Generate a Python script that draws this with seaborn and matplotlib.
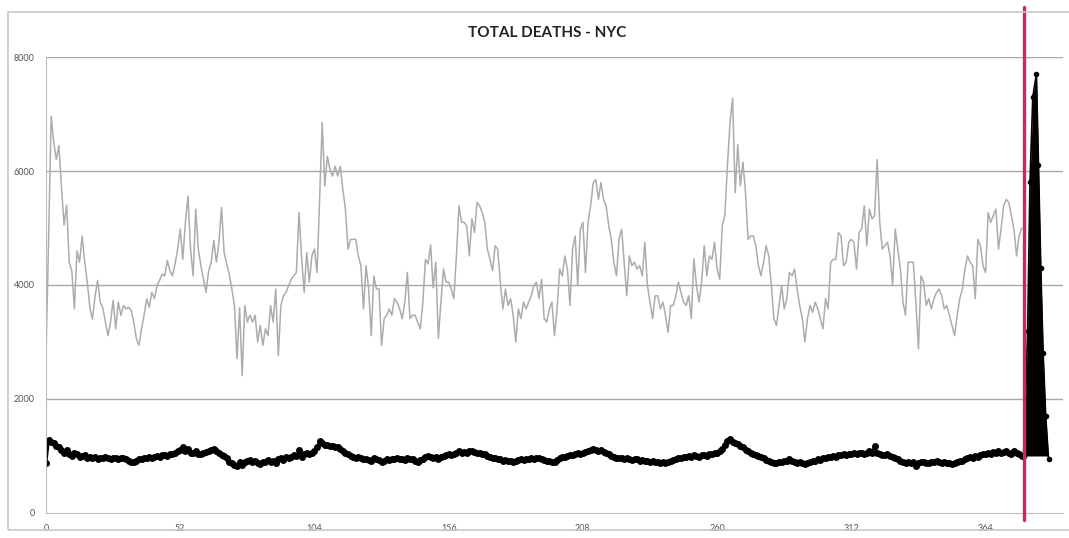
import numpy as np
import pandas as pd
import matplotlib.pyplot as plt
import seaborn as sns
from matplotlib.patches import Rectangle

# weekly totals (week 0 .. 378)
gray_vals = [
    2750, 4800, 6960, 6500, 6200, 6450, 5700, 5050, 5400, 4400,
    4250, 3580, 4600, 4400, 4860, 4400, 4050, 3600, 3400, 3800,
    4080, 3700, 3600, 3350, 3110, 3350, 3730, 3230, 3700, 3470,
    3640, 3580, 3610, 3550, 3350, 3060, 2940, 3230, 3470, 3760,
    3610, 3870, 3760, 3990, 4080, 4190, 4160, 4430, 4250, 4160,
    4370, 4630, 4980, 4450, 5100, 5560, 4630, 4160, 5330, 4630,
    4340, 4110, 3870, 4250, 4400, 4780, 4400, 4750, 5360, 4570,
    4370, 4190, 3930, 3640, 2710, 3600, 2410, 3640, 3350, 3470,
    3350, 3470, 3000, 3290, 2940, 3230, 3110, 3640, 3350, 3930,
    2760, 3640, 3810, 3870, 3990, 4100, 4160, 4220, 5270, 4510,
    3870, 4570, 4050, 4510, 4630, 4220, 5500, 6850, 5740, 6260,
    6030, 5910, 6080, 5910, 6080, 5680, 5330, 4630, 4800, 4800,
    4800, 4510, 4340, 3580, 4340, 3930, 3110, 4160, 3930, 3930,
    2940, 3410, 3470, 3580, 3470, 3760, 3700, 3580, 3410, 3700,
    4220, 3410, 3470, 3470, 3350, 3230, 3700, 4450, 4370, 4700,
    3950, 4400, 3060, 3700, 4280, 4050, 4050, 3930, 3760, 4510,
    5390, 5100, 5100, 5040, 4510, 5160, 4920, 5450, 5390, 5270,
    5100, 4630, 4450, 4250, 4690, 4630, 4050, 3580, 3930, 3640,
    3760, 3470, 3000, 3580, 3410, 3700, 3580, 3700, 3810, 3990,
    4050, 3760, 4100, 3410, 3350, 3580, 3700, 3110, 3580, 4280,
    4160, 4510, 4280, 3640, 4630, 4860, 3990, 4980, 5100, 4220,
    5100, 5390, 5790, 5850, 5500, 5800, 5500, 5390, 5040, 4800,
    4400, 4160, 4800, 4980, 4400, 3810, 4510, 4340, 4400, 4280,
    4340, 4160, 4750, 3990, 3700, 3410, 3810, 3810, 3580, 3700,
    3470, 3170, 3640, 3640, 3810, 4050, 3870, 3700, 3640, 3810,
    3410, 4460, 3990, 3700, 4050, 4690, 4160, 4510, 4450, 4750,
    4280, 4100, 5040, 5220, 6100, 6850, 7280, 5620, 6460, 5740,
    6160, 5620, 4800, 4860, 4860, 4690, 4340, 4160, 4400, 4690,
    4510, 3990, 3410, 3290, 3640, 3990, 3580, 3760, 4220, 4160,
    4280, 3930, 3640, 3410, 3000, 3410, 3640, 3520, 3700, 3580,
    3410, 3230, 3760, 3580, 4400, 4450, 4450, 4920, 4860, 4340,
    4400, 4750, 4800, 4750, 4280, 4920, 4980, 5390, 4690, 5330,
    5160, 5220, 6200, 5100, 4630, 4690, 4750, 4510, 3990, 4980,
    4630, 4280, 3700, 3470, 4400, 4400, 4400, 3700, 2880, 4160,
    4050, 3640, 3760, 3580, 3760, 3870, 3930, 3810, 3580, 3640,
    3470, 3290, 3110, 3470, 3760, 3930, 4280, 4510, 4400, 4340,
    3760, 4800, 4690, 4340, 4220, 5270, 5100, 5220, 5330, 4630,
    4980, 5390, 5500, 5450, 5220, 4980, 4510, 4860, 5000,
]

black_vals = [
    880, 1280, 1250, 1230, 1180, 1150, 1100, 1060, 1100, 1040,
    1000, 1060, 1030, 980, 1000, 1010, 970, 990, 960, 980,
    950, 970, 960, 980, 960, 950, 970, 960, 950, 970,
    960, 940, 920, 900, 890, 920, 950, 940, 970, 960,
    980, 970, 990, 1000, 990, 1010, 1020, 1000, 1030, 1040,
    1060, 1080, 1100, 1150, 1080, 1120, 1060, 1050, 1090, 1040,
    1030, 1050, 1070, 1080, 1100, 1130, 1090, 1050, 1020, 1000,
    960, 900, 880, 850, 820, 890, 850, 900, 920, 930,
    900, 910, 880, 860, 890, 900, 930, 900, 920, 870,
    940, 960, 930, 980, 970, 990, 1010, 1000, 1100, 990,
    1030, 1050, 1040, 1060, 1090, 1150, 1260, 1220, 1190, 1200,
    1180, 1170, 1160, 1150, 1120, 1090, 1060, 1030, 1000, 990,
    970, 980, 960, 940, 950, 930, 920, 960, 940, 930,
    900, 920, 940, 930, 950, 940, 960, 950, 940, 930,
    960, 950, 940, 920, 900, 930, 950, 980, 1000, 990,
    960, 980, 950, 990, 1000, 1020, 1030, 1010, 1040, 1060,
    1080, 1050, 1070, 1060, 1080, 1090, 1070, 1060, 1050, 1040,
    1030, 1000, 990, 970, 960, 950, 940, 920, 930, 910,
    920, 900, 920, 930, 940, 930, 950, 940, 960, 950,
    970, 960, 940, 930, 910, 920, 890, 900, 930, 960,
    980, 990, 1000, 1020, 1010, 1040, 1050, 1030, 1060, 1070,
    1090, 1100, 1120, 1110, 1090, 1100, 1070, 1050, 1030, 1000,
    990, 970, 960, 970, 950, 960, 940, 930, 950, 940,
    920, 930, 910, 920, 900, 910, 890, 900, 880, 900,
    870, 900, 920, 930, 950, 960, 970, 980, 990, 1000,
    980, 1010, 1000, 990, 1010, 1020, 1000, 1030, 1040, 1060,
    1050, 1080, 1130, 1200, 1260, 1290, 1250, 1220, 1210, 1180,
    1150, 1110, 1080, 1060, 1040, 1010, 1000, 980, 960, 930,
    910, 890, 870, 880, 900, 890, 920, 910, 940, 920,
    900, 880, 900, 870, 860, 880, 900, 910, 920, 940,
    930, 960, 970, 990, 980, 1000, 990, 1010, 1020, 1030,
    1020, 1040, 1030, 1050, 1040, 1060, 1050, 1040, 1060, 1080,
    1050, 1170, 1060, 1040, 1020, 1010, 1030, 1000, 980, 970,
    950, 920, 900, 880, 900, 870, 890, 820, 880, 900,
    890, 870, 880, 900, 890, 910, 890, 880, 900, 870,
    880, 860, 870, 900, 920, 910, 940, 960, 980, 970,
    1000, 990, 1020, 1040, 1030, 1050, 1040, 1070, 1060, 1080,
    1050, 1070, 1090, 1060, 1040, 1080, 1050, 1030, 1000,
]

# the 2020 spike at the end of the series
spike_weeks = [378.7, 379.5, 380.3, 381.2, 382.3, 383.7, 384.5, 385.4, 386.3, 387.3, 388.4]
spike_vals = [1000, 2000, 3200, 5800, 7300, 7700, 6100, 4300, 2800, 1700, 950]
spike_base = 1000

ticks = [0, 52, 104, 156, 208, 260, 312, 364]
marker_week = 378.7

df_gray = pd.DataFrame({"week": np.arange(len(gray_vals)), "deaths": gray_vals})
df_black = pd.DataFrame({"week": np.arange(len(black_vals)), "deaths": black_vals})

sns.set_style("white")
plt.rcParams['font.family'] = ['Lato', 'DejaVu Sans']

fig = plt.figure(figsize=(10.69, 5.38), dpi=100)
ax = fig.add_axes([46/1069, 1 - 513/538, (1063 - 46)/1069, (513 - 57)/538])

# outer chart frame
fig.patches.append(Rectangle((8/1069, 1 - 530/538), 1.2, (530 - 12)/538,
                             transform=fig.transFigure, fill=False,
                             edgecolor='#c8c8c8', lw=1.2))

for yv in [2000, 4000, 6000, 8000]:
    ax.axhline(yv, color='#a8a8a8', lw=1.0, zorder=0)

sns.lineplot(data=df_gray, x='week', y='deaths', ax=ax, color='#acacac', lw=1.1)
sns.lineplot(data=df_black, x='week', y='deaths', ax=ax, color='black', lw=2.0,
             marker='o', markersize=5, markeredgewidth=0)

ax.fill_between(spike_weeks, spike_vals, spike_base, color='black', lw=0, zorder=3)
ax.plot(spike_weeks, spike_vals, color='black', lw=1.2, marker='o', markersize=3, zorder=4)

ax.axvline(marker_week, ymin=-0.015, ymax=1.11, color='#d3245c', lw=2.4, clip_on=False, zorder=5)

ax.set_xlim(0, 394)
ax.set_ylim(0, 8000)
ax.set_xticks(ticks)
ax.set_xticklabels([str(t) for t in ticks], fontsize=6.5, color='#555555')
ax.set_yticks([0, 2000, 4000, 6000, 8000])
ax.set_yticklabels(['0', '2000', '4000', '6000', '8000'], fontsize=6.5, color='#555555')
ax.tick_params(length=0, pad=8)
ax.set_xlabel('')
ax.set_ylabel('')

for side in ['top', 'right']:
    ax.spines[side].set_visible(False)
ax.spines['left'].set_color('#bbbbbb')
ax.spines['bottom'].set_color('#bbbbbb')

fig.text(547/1069, 1 - 33/538, 'TOTAL DEATHS - NYC', ha='center', va='center',
         fontsize=11, fontweight='bold', color='#222222')

fig.savefig('out.png', dpi=100)
